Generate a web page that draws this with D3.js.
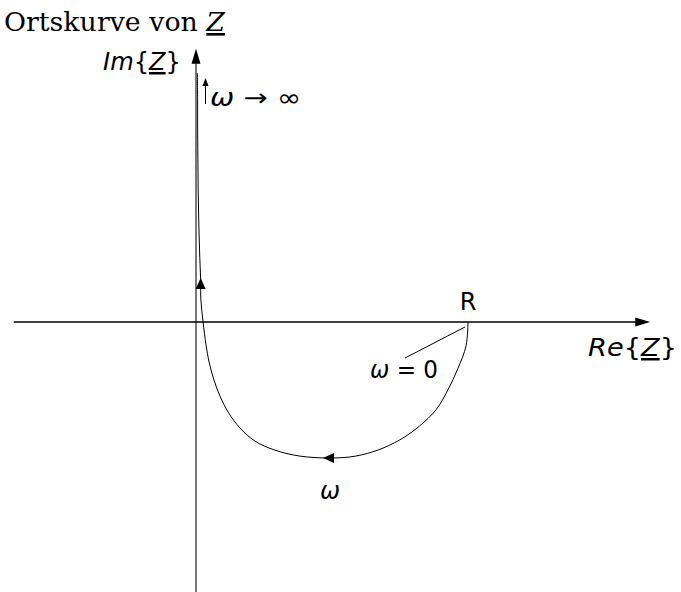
<!DOCTYPE html>
<html>
<head>
<meta charset="utf-8">
<script src="https://cdn.jsdelivr.net/npm/d3@7"></script>
<style>
  html, body { margin: 0; padding: 0; background: #fff; }
  svg { display: block; }
  .sans { font-family: "DejaVu Sans", sans-serif; }
  .serif { font-family: "DejaVu Serif", serif; }
</style>
</head>
<body>
<svg id="chart" width="681" height="592"></svg>
<script>
// Locus of the impedance Z (units of R): real and imaginary parts
const reValues = [1.000, 0.993, 0.963, 0.926, 0.883, 0.821, 0.750, 0.671, 0.587, 0.500,
                  0.382, 0.290, 0.217, 0.162, 0.118, 0.088, 0.066, 0.048, 0.037, 0.026,
                  0.018, 0.017, 0.013, 0.010, 0.008, 0.007, 0.006, 0.006, 0.005];
const imValues = [0.000, -0.087, -0.171, -0.250, -0.322, -0.383, -0.433, -0.470, -0.493, -0.500,
                  -0.493, -0.471, -0.438, -0.390, -0.331, -0.272, -0.213, -0.147, -0.085, 0.000,
                  0.081, 0.154, 0.265, 0.375, 0.485, 0.596, 0.706, 0.816, 0.915];

// Direction arrows along the locus (position in units of R, heading in degrees)
const arrowRe = [0.467, 0.017];
const arrowIm = [-0.500, 0.162];
const arrowHeading = [180, 90];

// Axis extents (units of R)
const reAxisExtent = [-0.67, 1.67];
const imAxisExtent = [-1.0, 1.005];

// Labels
const titleText = "Ortskurve von ";
const titleSymbol = "Z";
const labelR = "R";
const labelOmega = "ω";

const svg = d3.select("#chart");
const x = d3.scaleLinear().domain([0, 1]).range([196, 468]);
const y = d3.scaleLinear().domain([0, 1]).range([322, 50]);

function arrowHead(g, px, py, angleDeg, len, half, fill) {
  g.append("path")
    .attr("d", `M0,0 L${-len},${-half} L${-len},${half} Z`)
    .attr("fill", fill)
    .attr("transform", `translate(${px},${py}) rotate(${-angleDeg})`);
}

// Imaginary axis (grey)
const axes = svg.append("g");
axes.append("line")
  .attr("x1", x(0)).attr("x2", x(0))
  .attr("y1", y(imAxisExtent[0])).attr("y2", y(imAxisExtent[1]) + 12)
  .attr("stroke", "#7a7a7a").attr("stroke-width", 2);
arrowHead(axes, x(0), y(imAxisExtent[1]), 90, 15, 4.5, "#000");

// Real axis (black)
axes.append("line")
  .attr("x1", x(reAxisExtent[0])).attr("x2", x(reAxisExtent[1]) - 12)
  .attr("y1", y(0)).attr("y2", y(0))
  .attr("stroke", "#000").attr("stroke-width", 1.6);
arrowHead(axes, x(reAxisExtent[1]), y(0), 0, 15, 4.5, "#000");

// Locus curve
const pts = reValues.map((r, i) => [r, imValues[i]]);
const line = d3.line().x(d => x(d[0])).y(d => y(d[1])).curve(d3.curveCatmullRom.alpha(0.5));
svg.append("path")
  .attr("d", line(pts))
  .attr("fill", "none")
  .attr("stroke", "#000")
  .attr("stroke-width", 1);

arrowRe.forEach((r, i) => {
  arrowHead(svg, x(r), y(arrowIm[i]), arrowHeading[i], 11, 5, "#000");
});

// Title
const title = svg.append("text").attr("class", "serif")
  .attr("x", 4).attr("y", 31).attr("font-size", 26)
  .attr("textLength", 221).attr("lengthAdjust", "spacingAndGlyphs");
title.append("tspan").text(titleText);
title.append("tspan").attr("font-style", "italic").attr("text-decoration", "underline").text(titleSymbol);

// Axis labels
function complexLabel(xx, yy, part, width) {
  const t = svg.append("text").attr("class", "sans")
    .attr("x", xx).attr("y", yy).attr("font-size", 25)
    .attr("textLength", width).attr("lengthAdjust", "spacingAndGlyphs");
  t.append("tspan").attr("font-style", "italic").text(part);
  t.append("tspan").text("{");
  t.append("tspan").attr("font-style", "italic").attr("text-decoration", "underline").text("Z");
  t.append("tspan").text("}");
  return t;
}
complexLabel(103, 70, "Im", 78);
complexLabel(588, 356, "Re", 89);

// R at omega = 0
svg.append("text").attr("class", "sans")
  .attr("x", x(1)).attr("y", y(0) - 12)
  .attr("font-size", 24).attr("text-anchor", "middle").text(labelR);

// omega = 0 with leader line
svg.append("line")
  .attr("x1", 405).attr("y1", 358)
  .attr("x2", x(reValues[0]) - 3).attr("y2", y(imValues[0]) + 5)
  .attr("stroke", "#000").attr("stroke-width", 1);
const om0 = svg.append("text").attr("class", "sans")
  .attr("x", 370).attr("y", 378).attr("font-size", 24)
  .attr("textLength", 68).attr("lengthAdjust", "spacingAndGlyphs");
om0.append("tspan").attr("font-style", "italic").text("ω");
om0.append("tspan").text(" = 0");

// omega direction label
svg.append("text").attr("class", "sans")
  .attr("x", x(arrowRe[0]) + 7).attr("y", 499)
  .attr("font-size", 24).attr("font-style", "italic").attr("text-anchor", "middle").text(labelOmega);

// omega -> infinity with small arrow
const infG = svg.append("g");
infG.append("line")
  .attr("x1", 205.5).attr("x2", 205.5).attr("y1", 104).attr("y2", 84)
  .attr("stroke", "#000").attr("stroke-width", 1);
arrowHead(infG, 205.5, 78, 90, 8, 3, "#000");
const inf = svg.append("text").attr("class", "sans")
  .attr("x", 210).attr("y", 106).attr("font-size", 24)
  .attr("textLength", 91).attr("lengthAdjust", "spacingAndGlyphs");
inf.append("tspan").attr("font-style", "italic").text("ω");
inf.append("tspan").text(" → ∞");
</script>
</body>
</html>
